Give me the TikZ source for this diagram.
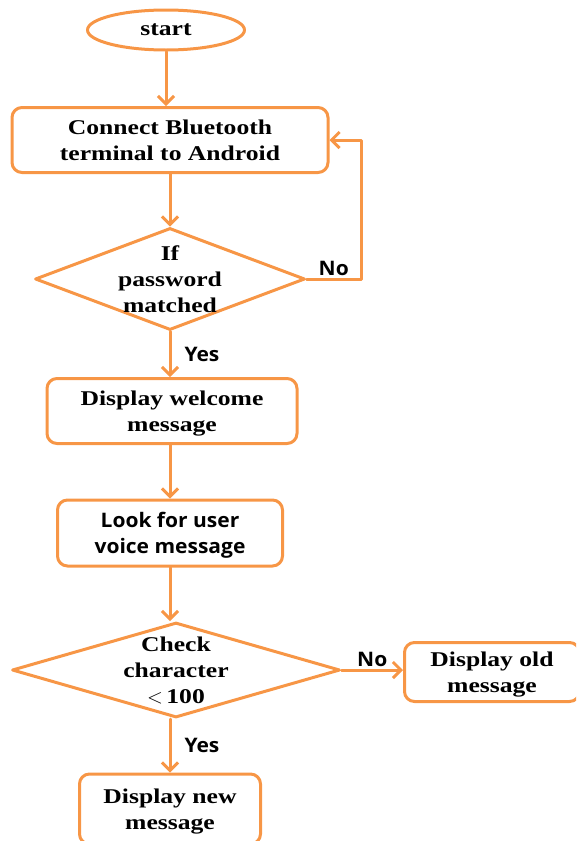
\documentclass[tikz,border=0pt]{standalone}
\usepackage{fontspec}
\setmainfont{Liberation Serif}[FakeStretch=1.22]
\newfontfamily\labelfont{Open Sans}[FakeStretch=1.05]
\usetikzlibrary{arrows.meta,shapes.geometric}
\definecolor{flow}{RGB}{247,150,70}

\begin{document}
\begin{tikzpicture}[x=1pt, y=-1pt, >={Straight Barb[length=8pt,width=16pt]}, line cap=round, line join=round,
  line width=3pt,
  serif/.style={font=\fontsize{21}{26}\selectfont\bfseries},
  sans/.style={font=\labelfont\fontsize{20}{26}\selectfont\bfseries},
  box/.style={draw=flow, rounded corners=10pt, align=center, inner sep=0pt, text depth=0pt},
  decision/.style={draw=flow, diamond, inner sep=0pt},
  flowline/.style={draw=flow, ->},
  tag/.style={sans, text=black, inner sep=2pt}]

\useasboundingbox (0,0) rectangle (576,841);
\clip (0,0) rectangle (576,841);

\node[draw=flow, ellipse, serif, minimum width=157, minimum height=40, inner sep=0pt] (start) at (166,30) {start};
\node[box, serif, minimum width=316, minimum height=65] (connect) at (170,140) {Connect Bluetooth\\terminal to Android};
\node[decision, minimum width=270, minimum height=102, label={[serif, align=center]center:If\\password\\matched}] (check1) at (170,279) {};
\node[box, serif, minimum width=250, minimum height=65] (welcome) at (172,411) {Display welcome\\message};
\node[box, sans, minimum width=225, minimum height=66] (look) at (170,533) {Look for user\\voice message};
\node[decision, minimum width=328, minimum height=95, label={[serif, align=center]center:Check\\character\\$<$\,100}] (check2) at (176,670) {};
\node[box, serif, minimum width=175, minimum height=59] (old) at (492,672) {Display old\\message};
\node[box, serif, minimum width=181, minimum height=70] (new) at (170,809) {Display new\\message};
\coordinate (loop) at (361,279);

\draw[flowline] (start) -- (start |- connect.north);
\draw[flowline] (connect) -- (connect |- check1.north);
\draw[flowline] (check1.east) -- node[tag, above] {No} (loop) |- (connect.east);
\draw[flowline] (check1.south) -- node[tag, right, xshift=11pt] {Yes} (check1 |- welcome.north);
\draw[flowline] (welcome.south -| look) -- (look.north);
\draw[flowline] (look) -- (look |- check2.north);
\draw[flowline] (check2.east) -- node[tag, above] {No} (old.west |- check2.east);
\draw[flowline] (check2.south -| new) -- node[tag, right, xshift=11pt] {Yes} (new.north);

\end{tikzpicture}
\end{document}
